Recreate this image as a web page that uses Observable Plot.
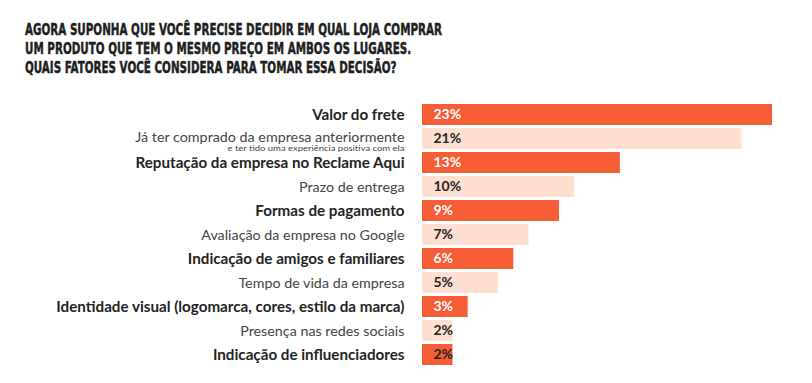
<!DOCTYPE html>
<html><head><meta charset="utf-8">
<script src="https://cdn.jsdelivr.net/npm/d3@7"></script>
<script src="https://cdn.jsdelivr.net/npm/@observablehq/plot@0.6"></script>
<style>
html,body{margin:0;padding:0;background:#fff;}
#wrap{position:relative;width:812px;height:383px;overflow:hidden;}
#title{position:absolute;left:24.5px;top:20px;margin:0;font-family:"DejaVu Sans",sans-serif;font-stretch:condensed;font-weight:bold;font-size:16.5px;line-height:19px;color:#1e1e1e;-webkit-text-stroke:0.45px #1e1e1e;}
#title span{display:block;white-space:nowrap;transform-origin:0 50%;width:max-content;}
#chart{position:absolute;left:0;top:90px;}
</style></head>
<body><div id="wrap">
<div id="title"></div>
<div id="chart"></div>
</div>
<script>
const titleLines = [
  "AGORA SUPONHA QUE VOCÊ PRECISE DECIDIR EM QUAL LOJA COMPRAR",
  "UM PRODUTO QUE TEM O MESMO PREÇO EM AMBOS OS LUGARES.",
  "QUAIS FATORES VOCÊ CONSIDERA PARA TOMAR ESSA DECISÃO?"
];
const categories = [
  "Valor do frete",
  "Já ter comprado da empresa anteriormente",
  "Reputação da empresa no Reclame Aqui",
  "Prazo de entrega",
  "Formas de pagamento",
  "Avaliação da empresa no Google",
  "Indicação de amigos e familiares",
  "Tempo de vida da empresa",
  "Identidade visual (logomarca, cores, estilo da marca)",
  "Presença nas redes sociais",
  "Indicação de influenciadores"
];
const values = [23, 21, 13, 10, 9, 7, 6, 5, 3, 2, 2];
const notes = ["", "e ter tido uma experiência positiva com ela", "", "", "", "", "", "", "", "", ""];

// title
const titleEl = document.getElementById("title");
const spans = titleLines.map(t => { const s = document.createElement("span"); s.textContent = t; titleEl.appendChild(s); return s; });
const w0 = spans[0].getBoundingClientRect().width;
const sx = 417 / w0;
spans.forEach(s => s.style.transform = `scaleX(${sx})`);

const data = categories.map((c, i) => ({category: c, value: values[i], note: notes[i], strong: i % 2 === 0}));
const ORANGE = "#F65C36", PEACH = "#FEDFD0", DARK = "#232323", GRAY = "#444444";
const font = "Lato, 'Open Sans', sans-serif";

const chart = Plot.plot({
  width: 812,
  height: 293,
  marginLeft: 422,
  marginRight: 40,
  marginTop: 9.7,
  marginBottom: 12.8,
  style: {fontFamily: font, background: "transparent"},
  x: {domain: [0, 23], axis: null},
  y: {domain: categories, padding: 0.11, axis: null},
  marks: [
    Plot.barX(data, {y: "category", x: "value", fill: d => d.strong ? ORANGE : PEACH}),
    Plot.text(data.filter(d => d.strong), {y: "category", x: 0, text: "category", textAnchor: "end", dx: -18, fontWeight: "bold", fontSize: 15.2, fill: DARK}),
    Plot.text(data.filter(d => !d.strong && !d.note), {y: "category", x: 0, text: "category", textAnchor: "end", dx: -18, fontSize: 14.3, fill: GRAY}),
    Plot.text(data.filter(d => !d.strong && d.note), {y: "category", x: 0, text: "category", textAnchor: "end", dx: -18, dy: -2, fontSize: 14.3, fill: GRAY}),
    Plot.text(data.filter(d => d.note), {y: "category", x: 0, text: "note", textAnchor: "end", dx: -18, dy: 10, fontSize: 7.5, fill: GRAY}),
    Plot.text(data, {y: "category", x: 0, text: d => d.value + "%", textAnchor: "start", dx: 11, fontWeight: "bold", fontSize: 14, fill: d => (d.strong && d.value >= 3) ? "#ffffff" : DARK})
  ]
});
const noteSet = new Set(notes.filter(n => n));
d3.select(chart).selectAll("text").filter(function() { return noteSet.has(this.textContent); })
  .attr("textLength", 177).attr("lengthAdjust", "spacingAndGlyphs");
document.getElementById("chart").appendChild(chart);
</script>
</body></html>
